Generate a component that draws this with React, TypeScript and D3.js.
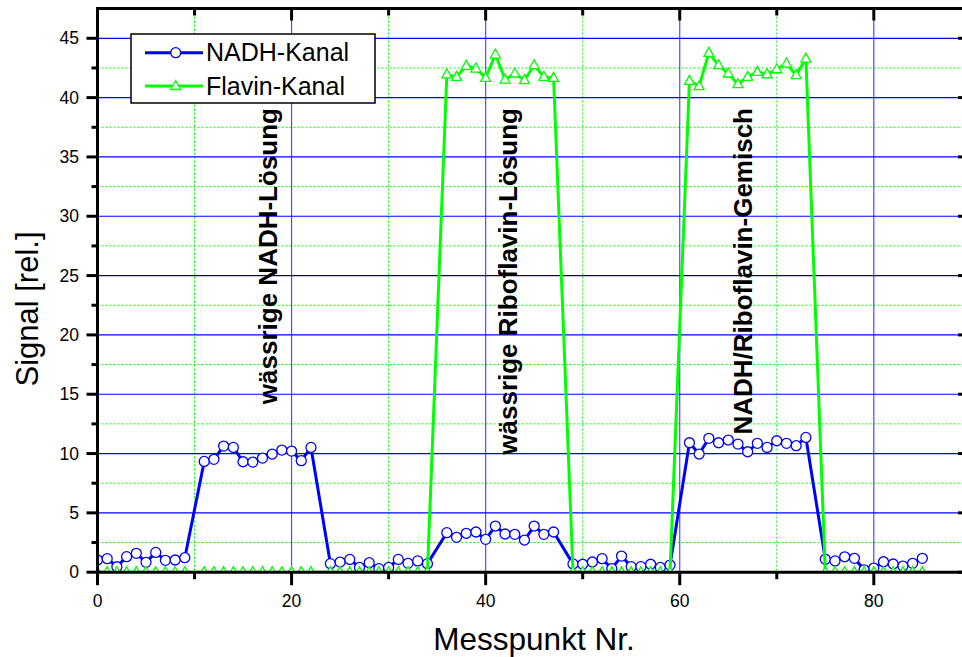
import React from "react";
import * as d3 from "d3";

// Messpunkt numbers (points 10, 23, 35, 48, 60, 74 are missing in the data)
const pointNr = [
  0, 1, 2, 3, 4, 5, 6, 7, 8, 9,
  11, 12, 13, 14, 15, 16, 17, 18, 19, 20, 21, 22,
  24, 25, 26, 27, 28, 29, 30, 31, 32, 33, 34,
  36, 37, 38, 39, 40, 41, 42, 43, 44, 45, 46, 47,
  49, 50, 51, 52, 53, 54, 55, 56, 57, 58, 59,
  61, 62, 63, 64, 65, 66, 67, 68, 69, 70, 71, 72, 73,
  75, 76, 77, 78, 79, 80, 81, 82, 83, 84, 85,
];

const nadhSignal = [
  1.03, 1.14, 0.46, 1.31, 1.59, 0.83, 1.67, 1.0, 1.03, 1.22,
  9.34, 9.51, 10.63, 10.52, 9.31, 9.28, 9.62, 9.96, 10.29, 10.21, 9.4, 10.52,
  0.72, 0.85, 1.08, 0.4, 0.8, 0.3, 0.4, 1.08, 0.75, 0.95, 0.72,
  3.33, 2.94, 3.28, 3.39, 2.77, 3.89, 3.22, 3.19, 2.71, 3.89, 3.19, 3.39,
  0.7, 0.67, 0.86, 1.14, 0.3, 1.36, 0.47, 0.47, 0.67, 0.4, 0.6,
  10.91, 9.96, 11.28, 10.91, 11.14, 10.8, 10.15, 10.86, 10.52, 11.08, 10.86, 10.66, 11.36,
  1.09, 0.95, 1.3, 1.17, 0.2, 0.35, 0.88, 0.69, 0.52, 0.75, 1.17,
];

const flavinSignal = [
  0, 0, 0, 0, 0, 0, 0, 0, 0, 0,
  0, 0, 0, 0, 0, 0, 0, 0, 0, 0, 0, 0,
  0, 0, 0, 0, 0, 0, 0, 0, 0, 0, 0,
  41.95, 41.75, 42.67, 42.45, 41.66, 43.63, 41.52, 42.03, 41.47, 42.73, 41.75, 41.66,
  0, 0, 0, 0, 0, 0, 0, 0, 0, 0, 0,
  41.41, 40.96, 43.77, 42.73, 42.03, 41.13, 41.75, 42.17, 41.97, 42.39, 42.87, 41.89, 43.29,
  0, 0, 0, 0, 0, 0, 0, 0, 0, 0, 0,
];

const xMajorTicks = [0, 20, 40, 60, 80];
const xMinorTicks = [10, 30, 50, 70];
const yMajorTicks = [0, 5, 10, 15, 20, 25, 30, 35, 40, 45];
const yMinorTicks = [2.5, 7.5, 12.5, 17.5, 22.5, 27.5, 32.5, 37.5, 42.5, 47.5];

const seriesNames = ["NADH-Kanal", "Flavin-Kanal"];
const annotations = [
  { x: 18.5, text: "wässrige NADH-Lösung" },
  { x: 43.2, text: "wässrige Riboflavin-Lösung" },
  { x: 67.4, text: "NADH/Riboflavin-Gemisch" },
];

const W = 962;
const H = 657;
const L = 97.5;
const R = 966;
const T = 8.5;
const B = 572.2;
const FONT = "'Liberation Sans', Arial, Helvetica, sans-serif";
const BLUE = "#0000ff";
const GREEN = "#00ff00";

export default function App() {
  const x = d3.scaleLinear().domain([0, 89.5]).range([L, R]);
  const y = d3.scaleLinear().domain([0, 47.51]).range([B, T]);

  const nadhPts = pointNr.map((p, i) => [x(p), y(nadhSignal[i])] as [number, number]);
  const flavPts = pointNr.map((p, i) => [x(p), y(flavinSignal[i])] as [number, number]);
  const line = d3.line<[number, number]>();
  const tri = "M0,-5.5 L5,3.5 L-5,3.5 Z";

  return (
    <div style={{ position: "absolute", left: 0, top: 0 }}>
      <svg width={W} height={H} style={{ display: "block", background: "#fff" }}>
        <defs>
          <clipPath id="plotclip">
            <rect x={L} y={T} width={R - L} height={B - T} />
          </clipPath>
        </defs>
        {/* minor grid */}
        {xMinorTicks.map((t) => (
          <line key={"gxm" + t} x1={x(t)} x2={x(t)} y1={T} y2={B} stroke={GREEN} strokeWidth={1} strokeDasharray="2,2" />
        ))}
        {yMinorTicks.filter((t) => y(t) > T + 1).map((t) => (
          <line key={"gym" + t} x1={L} x2={R} y1={y(t)} y2={y(t)} stroke={GREEN} strokeWidth={1} strokeDasharray="2,2" />
        ))}
        {/* major grid */}
        {xMajorTicks.filter((t) => t > 0).map((t) => (
          <line key={"gx" + t} x1={x(t)} x2={x(t)} y1={T} y2={B} stroke={BLUE} strokeWidth={1.2} strokeOpacity={0.7} />
        ))}
        {yMajorTicks.filter((t) => t > 0).map((t) => (
          <line key={"gy" + t} x1={L} x2={R} y1={y(t)} y2={y(t)} stroke={t === 25 ? "#10103a" : BLUE} strokeWidth={1.2} />
        ))}

        {/* data */}
        <g clipPath="url(#plotclip)">
          <path d={line(nadhPts) || ""} fill="none" stroke={BLUE} strokeWidth={3} strokeLinejoin="round" />
          {nadhPts.map((p, i) => (
            <circle key={"c" + i} cx={p[0]} cy={p[1]} r={5} fill="#fff" stroke={BLUE} strokeWidth={1.3} />
          ))}
          <path d={line(flavPts) || ""} fill="none" stroke={GREEN} strokeWidth={3} strokeLinejoin="round" />
          {flavPts.map((p, i) => (
            <path key={"t" + i} d={tri} transform={`translate(${p[0]},${p[1]})`} fill="#fff" stroke={GREEN} strokeWidth={1.3} />
          ))}
        </g>

        {/* frame */}
        <line x1={L} x2={R} y1={T} y2={T} stroke="#000" strokeWidth={3} />
        <line x1={L} x2={R} y1={B} y2={B} stroke="#000" strokeWidth={3} />
        <line x1={L} x2={L} y1={T - 1.5} y2={B + 1.5} stroke="#000" strokeWidth={3} />
        <line x1={R} x2={R} y1={T - 1.5} y2={B + 1.5} stroke="#000" strokeWidth={3} />

        {/* bottom ticks (outward) and top ticks (inward) */}
        {xMajorTicks.map((t) => (
          <g key={"xt" + t}>
            <line x1={x(t)} x2={x(t)} y1={B} y2={B + 13} stroke="#000" strokeWidth={3} />
            <line x1={x(t)} x2={x(t)} y1={T} y2={T + 12} stroke="#000" strokeWidth={3} />
            <text x={x(t)} y={607} textAnchor="middle" fontFamily={FONT} fontSize={17.5} fill="#000">{t}</text>
          </g>
        ))}
        {xMinorTicks.map((t) => (
          <g key={"xmt" + t}>
            <line x1={x(t)} x2={x(t)} y1={B} y2={B + 7} stroke="#000" strokeWidth={3} />
            <line x1={x(t)} x2={x(t)} y1={T} y2={T + 7} stroke="#000" strokeWidth={3} />
          </g>
        ))}
        {/* left ticks (outward), right ticks (inward) */}
        {yMajorTicks.map((t) => (
          <g key={"yt" + t}>
            <line x1={L - 11} x2={L} y1={y(t)} y2={y(t)} stroke="#000" strokeWidth={3} />
            <line x1={R - 8} x2={R} y1={y(t)} y2={y(t)} stroke="#000" strokeWidth={3} />
            <text x={79} y={y(t)} dy="0.35em" textAnchor="end" fontFamily={FONT} fontSize={17.5} fill="#000">{t}</text>
          </g>
        ))}
        {yMinorTicks.filter((t) => y(t) > T + 1).map((t) => (
          <g key={"ymt" + t}>
            <line x1={L - 6} x2={L} y1={y(t)} y2={y(t)} stroke="#000" strokeWidth={3} />
            <line x1={R - 4} x2={R} y1={y(t)} y2={y(t)} stroke="#000" strokeWidth={3} />
          </g>
        ))}

        {/* axis titles */}
        <text x={534} y={650} textAnchor="middle" fontFamily={FONT} fontSize={31.5} fill="#000">Messpunkt Nr.</text>
        <text transform={`translate(38,${309}) rotate(-90)`} textAnchor="middle" fontFamily={FONT} fontSize={31} fill="#000">Signal [rel.]</text>

        {/* annotations */}
        {annotations.map((a) => (
          <text key={a.text} transform={`translate(${x(a.x)},108) rotate(-90)`} textAnchor="end" fontFamily={FONT} fontWeight="bold" fontSize={26} fill="#000">{a.text}</text>
        ))}

        {/* legend */}
        <g>
          <rect x={131} y={34} width={244} height={69} fill="#fff" stroke="#000" strokeWidth={1.5} />
          <line x1={145} x2={203} y1={52.7} y2={52.7} stroke={BLUE} strokeWidth={3} />
          <circle cx={175.7} cy={52.7} r={5} fill="#fff" stroke={BLUE} strokeWidth={1.3} />
          <text x={206} y={52.7} dy="0.35em" fontFamily={FONT} fontSize={25} fill="#000">{seriesNames[0]}</text>
          <line x1={145} x2={203} y1={86} y2={86} stroke={GREEN} strokeWidth={3} />
          <path d={tri} transform="translate(175.7,86)" fill="#fff" stroke={GREEN} strokeWidth={1.3} />
          <text x={206} y={86} dy="0.35em" fontFamily={FONT} fontSize={25} fill="#000">{seriesNames[1]}</text>
        </g>
      </svg>
    </div>
  );
}
